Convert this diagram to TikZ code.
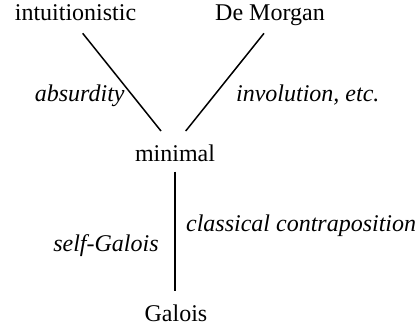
\documentclass[tikz,border=0pt]{standalone}
\usepackage{fontspec}
\setmainfont{Liberation Serif}
\usepackage{tikz}

\begin{document}
\begin{tikzpicture}[x=0.5pt,y=-0.5pt]
        \tikzstyle{logic} = [font=\fontsize{12}{14}\selectfont, inner sep=0pt, anchor=base];
        \tikzstyle{note} = [logic, font=\fontsize{12}{14}\selectfont\itshape];
        \tikzstyle{edge} = [line width=0.75pt];
        \useasboundingbox (0,0) rectangle (419,329);

        \node [logic] (intu) at (75.5,20.7) {intuitionistic};
        \node [logic] (dm) at (270,20.7) {De Morgan};
        \node [logic] (min) at (175,161.7) {minimal};
        \node [logic] (gal) at (176,321.7) {Galois};

        \draw [edge] ([shift={(7.2,12.6)}]intu.base) -- ([shift={(-14,-30.7)}]min.base);
        \draw [edge] ([shift={(-6,12.6)}]dm.base) -- ([shift={(10.7,-30.7)}]min.base);
        \draw [edge] ([yshift=-10*0.5pt]min.base) -- ([shift={(-1,-30.7)}]gal.base);

        \node [note, anchor=base east] (absn) at (125,101.7) {absurdity};
        \node [note, anchor=base west] (invn) at (235.7,101.7) {involution, etc.};
        \node [note, anchor=base west] (ccn) at (185.7,231.7) {classical contraposition};
        \node [note, anchor=base east] (sgn) at (159,251.7) {self-Galois};
\end{tikzpicture}
\end{document}
